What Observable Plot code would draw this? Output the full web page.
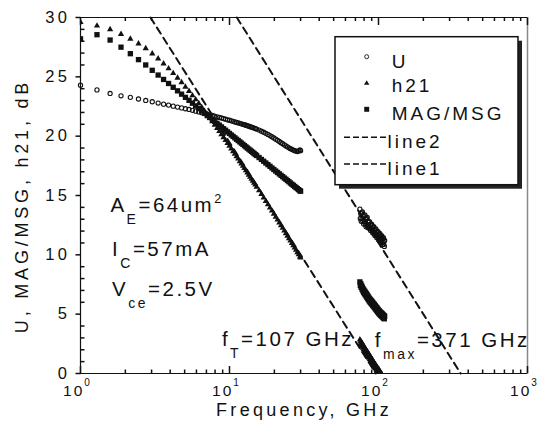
<!DOCTYPE html>
<html>
<head>
<meta charset="utf-8">
<script src="https://cdn.jsdelivr.net/npm/d3@7"></script>
<script src="https://cdn.jsdelivr.net/npm/@observablehq/plot@0.6"></script>
<style>
html, body { margin: 0; padding: 0; background: #fff; }
svg { display: block; }
</style>
</head>
<body>
<div id="chart"></div>
<script>
// ---- data ----
const freqLow = [1.00,1.29,1.58,1.87,2.16,2.45,2.74,3.03,3.32,3.61,
  3.90,4.19,4.48,4.77,5.06,5.35,5.64,5.93,6.22,6.51,
  6.80,7.09,7.38,7.67,7.96,8.25,8.54,8.83,9.12,9.41,
  9.70,9.99,10.28,10.57,10.86,11.15,11.44,11.73,12.02,12.31,
  12.60,12.89,13.18,13.47,13.76,14.05,14.34,14.63,14.92,15.21,
  15.79,16.37,16.95,17.53,18.11,18.69,19.27,19.85,20.43,21.01,
  21.59,22.17,22.75,23.33,23.91,24.49,25.07,25.65,26.23,26.81,
  27.39,27.97,28.55,29.13,29.71,30.00];
const uLow = [24.3,23.9,23.6,23.4,23.27,23.13,23.01,22.9,22.79,22.7,
  22.62,22.53,22.45,22.38,22.31,22.25,22.18,22.11,22.04,21.98,
  21.92,21.86,21.8,21.74,21.69,21.63,21.58,21.53,21.48,21.43,
  21.38,21.34,21.29,21.25,21.2,21.16,21.12,21.08,21.04,21.0,
  20.96,20.92,20.88,20.84,20.8,20.76,20.72,20.68,20.64,20.6,
  20.51,20.42,20.33,20.24,20.15,20.05,19.95,19.85,19.75,19.65,
  19.55,19.45,19.36,19.27,19.18,19.1,19.02,18.95,18.89,18.83,
  18.78,18.74,18.7,18.76,18.84,18.78];
const h21Low = [29.6,29.3,29.0,28.6,28.2,27.8,27.4,26.95,26.53,26.11,
  25.7,25.3,24.91,24.53,24.15,23.79,23.43,23.09,22.76,22.44,
  22.12,21.82,21.52,21.23,20.95,20.67,20.41,20.15,19.9,19.65,
  19.41,19.18,18.95,18.71,18.51,18.28,18.09,17.87,17.68,17.48,
  17.3,17.1,16.93,16.74,16.57,16.39,16.23,16.05,15.9,15.73,
  15.42,15.11,14.81,14.52,14.24,13.97,13.71,13.45,13.19,12.95,
  12.71,12.48,12.26,12.03,11.81,11.6,11.39,11.18,10.98,10.78,
  10.59,10.4,10.21,10.03,9.84,9.75];
const magLow = [28.2,28.55,28.1,27.5,26.95,26.45,26.0,25.55,25.15,24.78,
  24.44,24.12,23.82,23.54,23.27,23.02,22.78,22.55,22.33,22.12,
  21.92,21.73,21.57,21.4,21.24,21.08,20.93,20.78,20.63,20.5,
  20.36,20.23,20.1,19.98,19.86,19.74,19.63,19.52,19.41,19.31,
  19.2,19.1,19.0,18.91,18.81,18.72,18.63,18.54,18.45,18.37,
  18.2,18.04,17.89,17.74,17.6,17.46,17.32,17.19,17.06,16.94,
  16.82,16.7,16.59,16.47,16.37,16.26,16.16,16.05,15.95,15.86,
  15.76,15.67,15.58,15.49,15.4,15.36];

const freqHigh = [75,75.5,76,76.5,77,77.5,78,78.5,79,79.5,80,80.5,81,81.5,82,82.5,83,83.5,84,84.5,
  85,85.5,86,86.5,87,87.5,88,88.5,89,89.5,90,90.5,91,91.5,92,92.5,93,93.5,94,94.5,
  95,95.5,96,96.5,97,97.5,98,98.5,99,99.5,100,100.5,101,101.5,102,102.5,103,103.5,104,104.5,
  105,105.5,106,106.5,107,107.5,108,108.5,109,109.5,110];
const uHigh = [13.85,13.06,13.47,12.83,13.54,13.05,13.61,12.82,13.23,12.59,13.3,12.81,13.37,12.59,13.0,12.36,13.07,12.58,13.15,12.36,
  12.77,12.26,12.76,12.41,12.8,12.23,12.5,12.05,12.54,12.2,12.58,12.02,12.29,11.84,12.33,11.99,12.38,11.81,12.09,11.63,
  12.13,11.79,12.18,11.61,11.89,11.44,11.94,11.6,11.98,11.42,11.7,11.25,11.75,11.41,11.8,11.24,11.52,11.07,11.57,11.23,
  11.62,11.06,11.34,10.89,11.39,11.05,11.44,10.88,11.16,10.71,11.21];
const h21High = [2.85,2.49,2.73,2.38,2.62,2.26,2.5,2.15,2.39,2.03,2.27,1.91,2.15,1.8,2.05,1.7,1.95,1.6,1.85,1.5,
  1.75,1.4,1.65,1.3,1.55,1.2,1.45,1.1,1.35,1.0,1.25,0.9,1.15,0.8,1.05,0.71,0.96,0.62,0.87,0.53,
  0.78,0.44,0.69,0.35,0.6,0.26,0.52,0.18,0.44,0.1,0.36,0.02,0.28,-0.06,0.2,-0.14,0.12,-0.22,0.04,-0.3,
  -0.04];
const magHigh = [7.72,7.41,7.57,7.26,7.42,7.11,7.27,6.96,7.12,6.83,7.02,6.73,6.92,6.63,6.82,6.53,6.72,6.43,6.62,6.33,
  6.52,6.23,6.42,6.13,6.32,6.04,6.24,5.97,6.17,5.9,6.1,5.82,6.02,5.74,5.94,5.67,5.87,5.6,5.8,5.52,
  5.72,5.44,5.64,5.37,5.57,5.3,5.5,5.22,5.42,5.15,5.35,5.08,5.29,5.02,5.22,4.96,5.17,4.91,5.12,4.86,
  5.07,4.81,5.02,4.76,4.97,4.71,4.92,4.66,4.87,4.61,4.82];

// extrapolation lines (end points)
const line1Freq = [2.95, 96];
const line1Db = [30, 0];
const line2Freq = [11.2, 356];
const line2Db = [30, 0];

// axes
const xTickValues = [1, 10, 100, 1000];
const xTickLabels = ["10^{0}", "10^{1}", "10^{2}", "10^{3}"];
const yTickValues = [0, 5, 10, 15, 20, 25, 30];
const yTickLabels = ["0", "5", "10", "15", "20", "25", "30"];
const xTitle = "Frequency, GHz";
const yTitle = "U, MAG/MSG, h21, dB";

// legend and annotations
const legendLabels = ["U", "h21", "MAG/MSG", "line2", "line1"];
const notes = ["A_{E}=64um^{2}", "I_{C}=57mA", "V_{ce}=2.5V", "f_{T}=107 GHz", "f_{max}=371 GHz"];
const noteFreq = [1.588, 1.63, 1.63, 8.89, 94.5];
const noteDb = [14.2, 10.49, 7.11, 2.89, 2.81];

// ---- build tables ----
const rows = (fs, vs) => vs.map((v, i) => ({f: fs[i], v}));
const uData = rows(freqLow, uLow).concat(rows(freqHigh, uHigh));
const h21Data = rows(freqLow, h21Low).concat(rows(freqHigh, h21High));
const magData = rows(freqLow, magLow).concat(rows(freqHigh, magHigh));
const line1Data = rows(line1Freq, line1Db);
const line2Data = rows(line2Freq, line2Db);

const xMinor = [1, 10, 100].flatMap(k => d3.range(2, 10).map(m => m * k));
const yMinor = d3.range(1, 30).filter(v => v % 5 !== 0);

const ink = "#111";
const tickSym = (x2, y2) => ({draw(ctx) { ctx.moveTo(0, 0); ctx.lineTo(x2, y2); }});
const FONT = "'Liberation Sans', Arial, Helvetica, sans-serif";

const chart = Plot.plot({
  width: 544,
  height: 443,
  marginLeft: 80,
  marginRight: 17,
  marginTop: 17,
  marginBottom: 70,
  x: {type: "log", domain: [1, 1000], axis: null},
  y: {domain: [0, 30], axis: null},
  style: {fontFamily: FONT, color: ink, background: "white", overflow: "visible"},
  marks: [
    Plot.line(line1Data, {x: "f", y: "v", stroke: ink, strokeWidth: 2, strokeDasharray: "7,5"}),
    Plot.line(line2Data, {x: "f", y: "v", stroke: ink, strokeWidth: 2, strokeDasharray: "7,5"}),
    Plot.dot(h21Data, {x: "f", y: "v", symbol: "triangle", r: 2.3, fill: ink, clip: true}),
    Plot.dot(magData, {x: "f", y: "v", symbol: "square", r: 3, fill: ink, clip: true}),
    Plot.dot(uData, {x: "f", y: "v", symbol: "circle", r: 2.1, fill: "none", stroke: ink, strokeWidth: 1.1}),
    // frame
    Plot.ruleX([1000], {stroke: "#888", strokeWidth: 1.5}),
    Plot.ruleY([0], {stroke: ink, strokeWidth: 1.2}),
    Plot.ruleY([30], {stroke: ink, strokeWidth: 1.2}),
    Plot.ruleX([1], {stroke: ink, strokeWidth: 1.2}),
    // ticks
    Plot.dot(xTickValues, {x: d => d, frameAnchor: "bottom", symbol: tickSym(0, -7.5), fill: "none", stroke: ink}),
    Plot.dot(xMinor, {x: d => d, frameAnchor: "bottom", symbol: tickSym(0, -4), fill: "none", stroke: ink}),
    Plot.dot(xTickValues, {x: d => d, frameAnchor: "top", symbol: tickSym(0, 7.5), fill: "none", stroke: ink}),
    Plot.dot(xMinor, {x: d => d, frameAnchor: "top", symbol: tickSym(0, 3.5), fill: "none", stroke: ink}),
    Plot.dot(yTickValues, {y: d => d, frameAnchor: "left", symbol: tickSym(-5, 0), fill: "none", stroke: ink}),
    Plot.dot(yMinor, {y: d => d, frameAnchor: "left", symbol: tickSym(4, 0), fill: "none", stroke: ink}),
    // tick labels
    Plot.text(xTickValues, {x: d => d, frameAnchor: "bottom", text: (d, i) => xTickLabels[i], dy: 22, dx: -3, fontSize: 15.5, fill: ink}),
    Plot.text(yTickValues, {y: d => d, frameAnchor: "left", text: (d, i) => yTickLabels[i], textAnchor: "end", dx: -10, fontSize: 16.5, fill: ink}),
    // titles
    Plot.text([xTitle], {frameAnchor: "bottom", text: d => d, dy: 42, fontSize: 18, fill: ink}),
    Plot.text([yTitle], {frameAnchor: "left", text: d => d, rotate: -90, textAnchor: "middle", dx: -58.5, dy: 10.5, fontSize: 18, fill: ink}),
    // annotations
    Plot.text(notes, {x: (d, i) => noteFreq[i], y: (d, i) => noteDb[i], text: d => d, textAnchor: "start", fontSize: 20.5, fill: ink})
  ]
});

document.getElementById("chart").appendChild(chart);

// ---- text styling: letter spacing and sub/superscripts ----
const NS = "http://www.w3.org/2000/svg";
const xTickSet = new Set(xTickLabels), yTickSet = new Set(yTickLabels);
const noteSet = new Set(notes);
chart.querySelectorAll("text").forEach(t => {
  const raw = t.textContent;
  let ls = null, p = null;
  if (xTickSet.has(raw)) { ls = "2px"; p = {sup: 0.65, supShift: -0.62, sub: 0.68, subShift: 0.58}; }
  else if (yTickSet.has(raw)) ls = "3.5px";
  else if (raw === xTitle) ls = "3.3px";
  else if (raw === yTitle) ls = "3.8px";
  else if (noteSet.has(raw)) { ls = "2.5px"; p = {sup: 0.62, supShift: -0.42, sub: 0.68, subShift: 0.6}; }
  if (ls) t.style.letterSpacing = ls;
  if (!p || !/[_^]\{/.test(raw)) return;
  const fs = parseFloat(getComputedStyle(t).fontSize);
  while (t.firstChild) t.removeChild(t.firstChild);
  const add = (str, size, dy) => {
    const ts = document.createElementNS(NS, "tspan");
    ts.textContent = str;
    if (size) ts.setAttribute("font-size", size);
    if (dy) ts.setAttribute("dy", dy);
    t.appendChild(ts);
  };
  const re = /([_^])\{([^}]*)\}/g;
  let last = 0, m, shift = 0;
  while ((m = re.exec(raw))) {
    if (m.index > last) { add(raw.slice(last, m.index), null, -shift); shift = 0; }
    const sub = m[1] === "_";
    const target = (sub ? p.subShift : p.supShift) * fs;
    add(m[2], (sub ? p.sub : p.sup) * fs, target - shift);
    shift = target;
    last = re.lastIndex;
  }
  if (last < raw.length) add(raw.slice(last), null, -shift);
});

// ---- legend ----
const svg = d3.select(chart);
const lg = svg.append("g").attr("font-family", FONT).attr("font-size", 19).attr("fill", ink)
  .attr("text-anchor", "start").style("letter-spacing", "3px");
lg.append("rect").attr("x", 339).attr("y", 40.7).attr("width", 183).attr("height", 148).attr("fill", "#222");
lg.append("rect").attr("x", 335).attr("y", 36.7).attr("width", 183).attr("height", 148)
  .attr("fill", "white").attr("stroke", ink).attr("stroke-width", 1.5);
const symY = [56.7, 83.3, 109.3, 137.3, 164];
const textY = [68, 91.7, 120, 148, 175];
const symX = 366.7;
lg.append("circle").attr("cx", symX).attr("cy", symY[0]).attr("r", 2).attr("fill", "none").attr("stroke", ink).attr("stroke-width", 0.9);
lg.append("path").attr("d", d3.symbol(d3.symbolTriangle, Math.PI * 4)()).attr("transform", `translate(${symX},${symY[1]})`).attr("fill", ink);
lg.append("path").attr("d", d3.symbol(d3.symbolSquare, Math.PI * 2.8 * 2.8)()).attr("transform", `translate(${symX},${symY[2]})`).attr("fill", ink);
[3, 4].forEach(i => lg.append("line").attr("x1", 344).attr("x2", 387).attr("y1", symY[i]).attr("y2", symY[i])
  .attr("stroke", ink).attr("stroke-width", 1.5).attr("stroke-dasharray", "6,3"));
legendLabels.forEach((s, i) => lg.append("text").attr("x", i < 3 ? 391.7 : 387.5).attr("y", textY[i]).text(s));
</script>
</body>
</html>
